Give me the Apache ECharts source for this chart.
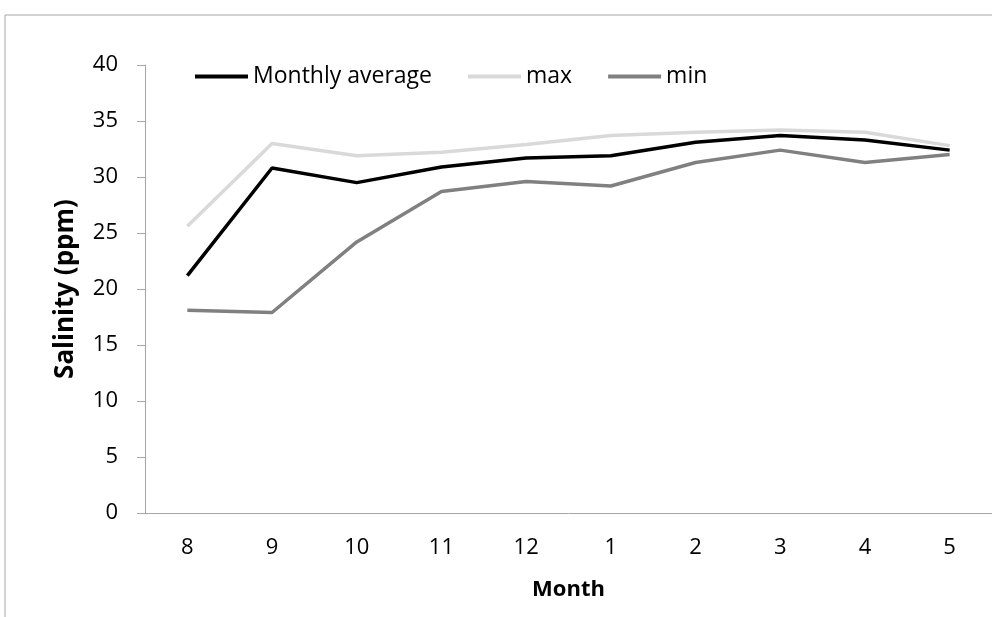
<!DOCTYPE html>
<html>
<head>
<meta charset="utf-8">
<script src="https://cdn.jsdelivr.net/npm/echarts@6/dist/echarts.min.js"></script>
<style>
  html, body { margin: 0; padding: 0; background: #fff; }
  #chart { width: 992px; height: 617px; }
</style>
</head>
<body>
<div id="chart"></div>
<script>
// months along the x axis (Aug through May)
const months = ["8", "9", "10", "11", "12", "1", "2", "3", "4", "5"];

// salinity readings, ppm
const monthlyAverage = [21.2, 30.8, 29.5, 30.9, 31.7, 31.9, 33.1, 33.7, 33.3, 32.4];
const maxValues = [25.6, 33.0, 31.9, 32.2, 32.9, 33.7, 34.0, 34.2, 34.0, 32.8];
const minValues = [18.1, 17.9, 24.2, 28.7, 29.6, 29.2, 31.3, 32.4, 31.3, 32.0];

const font = "'Open Sans', 'Noto Sans', sans-serif";

const chart = echarts.init(document.getElementById("chart"));

function lineSeries(name, data, color) {
  return {
    name: name,
    type: "line",
    data: data,
    symbol: "none",
    lineStyle: { color: color, width: 3.5 },
    itemStyle: { color: color },
    animation: false
  };
}

const option = {
  backgroundColor: "#fff",
  textStyle: { fontFamily: font },
  graphic: [
    {
      // outer chart frame, cut off on the right and bottom
      type: "rect",
      shape: { x: 5, y: 15, width: 1100, height: 700 },
      style: { fill: "none", stroke: "#a6a6a6", lineWidth: 1 },
      silent: true
    }
  ],
  legend: {
    left: 190,
    top: 60,
    itemWidth: 53,
    itemHeight: 4,
    itemGap: 36,
    textStyle: { fontFamily: font, fontSize: 23, color: "#000" },
    data: [
      { name: "Monthly average", icon: "rect" },
      { name: "max", icon: "rect" },
      { name: "min", icon: "rect" }
    ]
  },
  grid: { left: 145, top: 65, right: -13, bottom: 104, containLabel: false },
  xAxis: {
    type: "category",
    data: months,
    boundaryGap: true,
    name: "Month",
    nameLocation: "middle",
    nameGap: 66,
    nameTextStyle: { fontFamily: font, fontSize: 22, fontWeight: "bold", color: "#000" },
    axisLine: { lineStyle: { color: "#a6a6a6", width: 1 } },
    axisTick: { show: false },
    axisLabel: { margin: 24, fontFamily: font, fontSize: 22, color: "#000" },
    splitLine: { show: false }
  },
  yAxis: {
    type: "value",
    min: 0,
    max: 40,
    interval: 5,
    name: "Salinity (ppm)",
    nameLocation: "middle",
    nameGap: 66,
    nameRotate: 90,
    nameTextStyle: { fontFamily: font, fontSize: 26, fontWeight: "bold", color: "#000" },
    axisLine: { show: true, lineStyle: { color: "#a6a6a6", width: 1 } },
    axisTick: { show: true, length: 8, lineStyle: { color: "#a6a6a6" } },
    axisLabel: { margin: 27, fontFamily: font, fontSize: 22, color: "#000" },
    splitLine: { show: false }
  },
  series: [
    lineSeries("Monthly average", monthlyAverage, "#000000"),
    lineSeries("max", maxValues, "#d9d9d9"),
    lineSeries("min", minValues, "#808080")
  ]
};

chart.setOption(option);
</script>
</body>
</html>
